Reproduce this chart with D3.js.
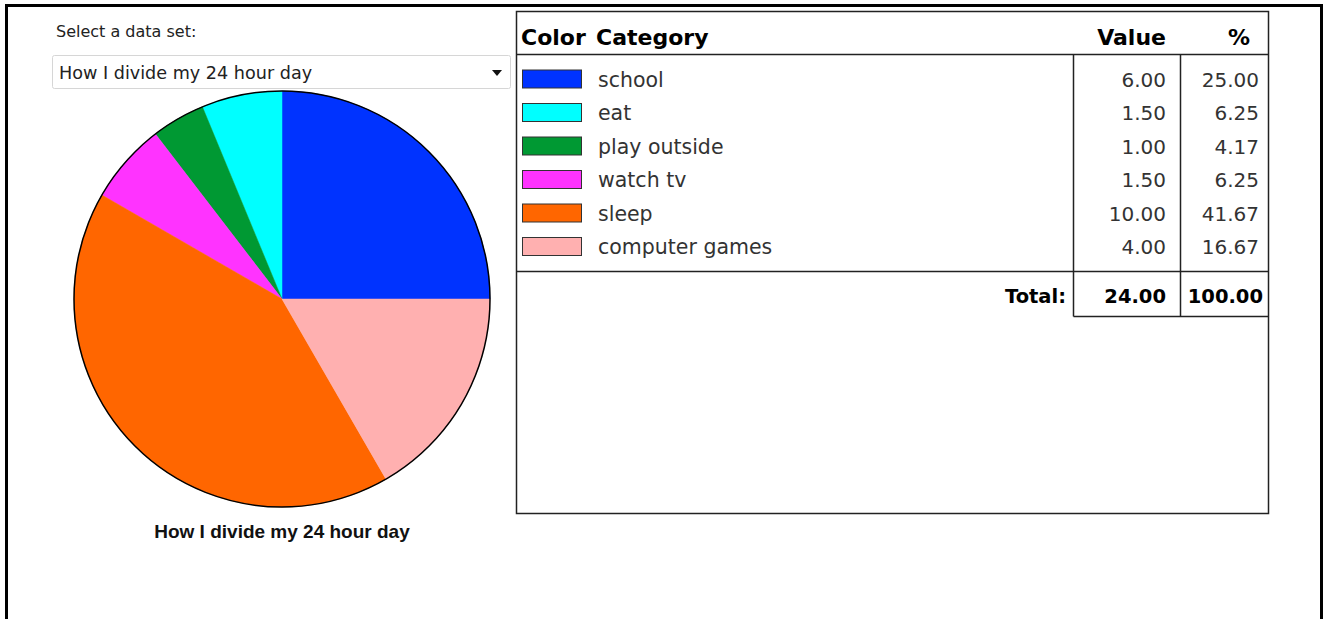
<!DOCTYPE html>
<html>
<head>
<meta charset="utf-8">
<script src="https://cdn.jsdelivr.net/npm/d3@7"></script>
<style>
  html, body { margin: 0; padding: 0; background: #fff; }
  svg { display: block; }
</style>
</head>
<body>
<svg id="chart" width="1324" height="619"></svg>
<script>
// Data set: how the 24 hours of a day are spent
const datasetTitle = "How I divide my 24 hour day";
const categories = ["school", "eat", "play outside", "watch tv", "sleep", "computer games"];
const hours = [6.00, 1.50, 1.00, 1.50, 10.00, 4.00];
const sliceColors = ["#0033ff", "#00ffff", "#009933", "#ff33ff", "#ff6600", "#ffb0b0"];
const headers = ["Color", "Category", "Value", "%"];

const rows = categories.map((c, i) => ({ name: c, value: hours[i], color: sliceColors[i] }));
const total = d3.sum(hours);
const fmt = d3.format(".2f");

const svg = d3.select("#chart");

// outer page frame
svg.append("rect")
  .attr("x", 6.5).attr("y", 5.5).attr("width", 1315).attr("height", 640)
  .attr("fill", "none").attr("stroke", "#000").attr("stroke-width", 3);

// ---- data set selector ----
svg.append("text")
  .attr("x", 56).attr("y", 37)
  .attr("font-family", "DejaVu Sans").attr("font-size", 16)
  .attr("fill", "#222")
  .text("Select a data set:");

svg.append("rect")
  .attr("x", 52.5).attr("y", 55.5).attr("width", 458).attr("height", 33)
  .attr("rx", 2)
  .attr("fill", "#fff").attr("stroke", "#d6d6d6");
svg.append("text")
  .attr("x", 59).attr("y", 79)
  .attr("font-family", "DejaVu Sans").attr("font-size", 17.6)
  .attr("fill", "#222")
  .text(datasetTitle);
svg.append("path")
  .attr("d", "M492,70 L502,70 L497,76 Z")
  .attr("fill", "#111");

// ---- pie ----
const cx = 282, cy = 299, radius = 208;
const pie = d3.pie().sort(null).value(d => d.value)
  .startAngle(Math.PI / 2).endAngle(Math.PI / 2 - 2 * Math.PI);
const arc = d3.arc().innerRadius(0).outerRadius(radius);

const pg = svg.append("g").attr("transform", `translate(${cx},${cy})`);
pg.selectAll("path.slice")
  .data(pie(rows))
  .join("path")
  .attr("class", "slice")
  .attr("d", arc)
  .attr("fill", d => d.data.color)
  .attr("stroke", d => d.data.color)
  .attr("stroke-width", 0.5);
pg.append("circle")
  .attr("r", radius)
  .attr("fill", "none").attr("stroke", "#000").attr("stroke-width", 1.5);

svg.append("text")
  .attr("x", cx).attr("y", 538)
  .attr("text-anchor", "middle")
  .attr("font-family", "Liberation Sans").attr("font-weight", "bold").attr("font-size", 19)
  .attr("fill", "#111")
  .text(datasetTitle);

// ---- data table ----
const tLeft = 516.5, tRight = 1268.5, tTop = 11.5, tBottom = 513.5;
const headerBottom = 54.5, bodyBottom = 271.5, totalBottom = 316.5;
const col1 = 1073.5, col2 = 1180.5;
const rowY = d3.scaleBand().domain(categories).range([70, 255.5]).paddingInner(0.4627).paddingOuter(0);
const lineColor = "#222";

const tg = svg.append("g");
tg.append("rect")
  .attr("x", tLeft).attr("y", tTop).attr("width", tRight - tLeft).attr("height", tBottom - tTop)
  .attr("fill", "none").attr("stroke", lineColor).attr("stroke-width", 1.5);
tg.append("line").attr("x1", tLeft).attr("x2", tRight).attr("y1", headerBottom).attr("y2", headerBottom)
  .attr("stroke", lineColor).attr("stroke-width", 1.5);
tg.append("line").attr("x1", tLeft).attr("x2", tRight).attr("y1", bodyBottom).attr("y2", bodyBottom)
  .attr("stroke", lineColor).attr("stroke-width", 1.5);
[col1, col2].forEach(x => tg.append("line")
  .attr("x1", x).attr("x2", x).attr("y1", headerBottom).attr("y2", totalBottom)
  .attr("stroke", lineColor).attr("stroke-width", 1.5));
tg.append("line").attr("x1", col1).attr("x2", tRight).attr("y1", totalBottom).attr("y2", totalBottom)
  .attr("stroke", lineColor).attr("stroke-width", 1.5);

// header row
const headX = [521, 596, 1166, 1250];
const headAnchor = ["start", "start", "end", "end"];
tg.selectAll("text.head")
  .data(headers)
  .join("text")
  .attr("class", "head")
  .attr("x", (d, i) => headX[i]).attr("y", 45)
  .attr("text-anchor", (d, i) => headAnchor[i])
  .attr("font-family", "DejaVu Sans").attr("font-weight", "bold").attr("font-size", 22)
  .attr("fill", "#000")
  .text(d => d);

// body rows
const rg = tg.selectAll("g.row")
  .data(rows)
  .join("g")
  .attr("class", "row")
  .attr("transform", d => `translate(0,${rowY(d.name)})`);
const bh = rowY.bandwidth();
rg.append("rect")
  .attr("x", 522.5).attr("y", 0).attr("width", 59).attr("height", bh)
  .attr("fill", d => d.color).attr("stroke", "#333").attr("stroke-width", 1);
rg.append("text")
  .attr("x", 598).attr("y", bh / 2 + 7.5)
  .attr("font-family", "DejaVu Sans").attr("font-size", 20.5)
  .attr("fill", "#333")
  .text(d => d.name);
rg.append("text")
  .attr("x", 1166).attr("y", bh / 2 + 7.5)
  .attr("text-anchor", "end")
  .attr("font-family", "DejaVu Sans").attr("font-size", 20)
  .attr("fill", "#333")
  .text(d => fmt(d.value));
rg.append("text")
  .attr("x", 1259).attr("y", bh / 2 + 7.5)
  .attr("text-anchor", "end")
  .attr("font-family", "DejaVu Sans").attr("font-size", 20)
  .attr("fill", "#333")
  .text(d => fmt(d.value / total * 100));

// total row
const totals = [["Total:", 1066], [fmt(total), 1166], [fmt(100), 1263]];
tg.selectAll("text.total")
  .data(totals)
  .join("text")
  .attr("class", "total")
  .attr("x", d => d[1]).attr("y", 303)
  .attr("text-anchor", "end")
  .attr("font-family", "DejaVu Sans").attr("font-weight", "bold").attr("font-size", 19.5)
  .attr("fill", "#000")
  .text(d => d[0]);
</script>
</body>
</html>
